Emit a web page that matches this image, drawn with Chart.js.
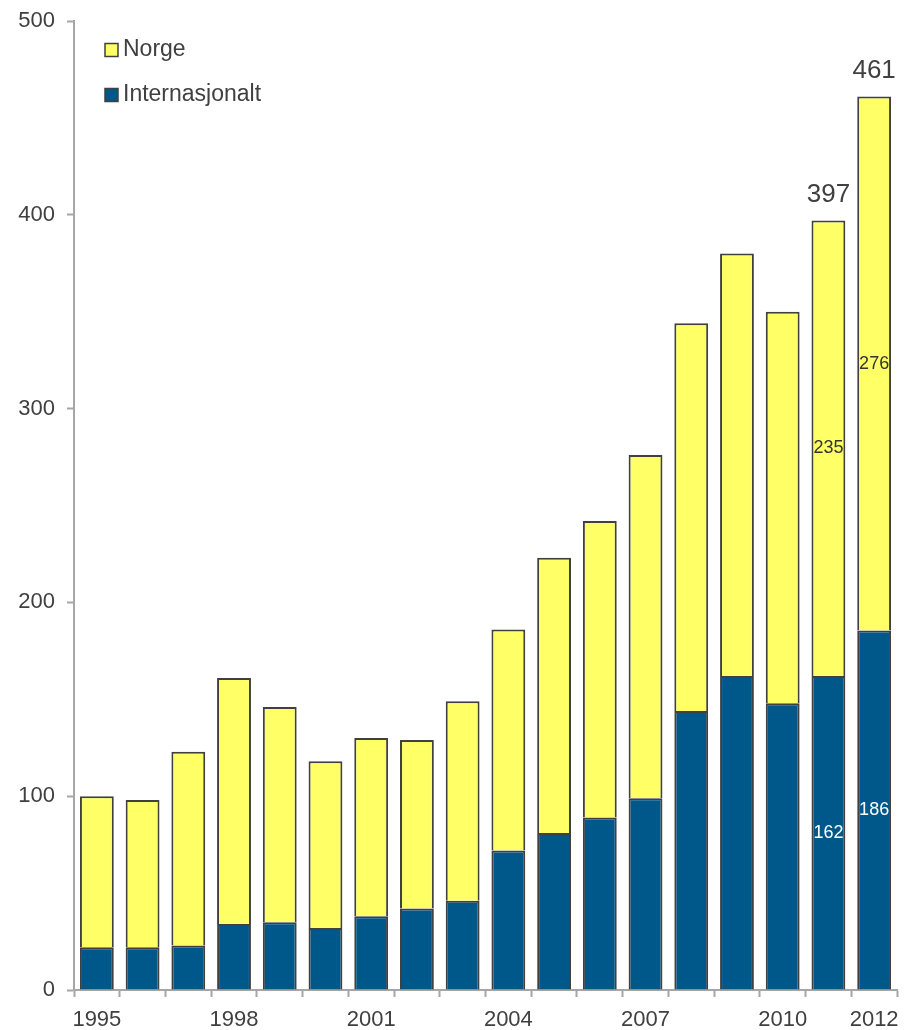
<!DOCTYPE html>
<html>
<head>
<meta charset="utf-8">
<script src="https://cdn.jsdelivr.net/npm/chart.js@4.4.1/dist/chart.umd.min.js"></script>
<style>
  html, body { margin: 0; padding: 0; background: #ffffff; }
  #wrap { width: 904px; height: 1030px; }
</style>
</head>
<body>
<div id="wrap"><canvas id="chart" width="904" height="1030"></canvas></div>
<script>
// Years on the category axis
const years = ['1995','1996','1997','1998','1999','2000','2001','2002','2003',
               '2004','2005','2006','2007','2008','2009','2010','2011','2012'];
// International part (bottom of each stack)
const internasjonalt = [22, 22, 23, 34, 35, 32, 38, 42, 46, 72, 81, 89, 99, 144, 162, 148, 162, 185.5];
// Norwegian part (stacked on top)
const norge = [78, 76, 100, 127, 111, 86, 92, 87, 103, 114, 142, 153, 177, 200, 218, 202, 235, 275.5];
// Year labels printed under the axis
const shownYears = ['1995','1998','2001','2004','2007','2010','2012'];
// Value-axis ticks
const yTicks = [0, 100, 200, 300, 400, 500];
// Years whose bars carry value labels
const labelledYears = ['2011','2012'];

const FONT = '"Liberation Sans", Arial, Helvetica, sans-serif';
const TEXT = '#404040';
const AXIS = '#a6a6a6';
const EDGE = '#404040';

// Segment values and stack totals on the labelled bars
const valueLabels = {
  id: 'valueLabels',
  afterDatasetsDraw(chart) {
    const ctx = chart.ctx;
    const metaI = chart.getDatasetMeta(0);
    const metaN = chart.getDatasetMeta(1);
    ctx.save();
    ctx.textAlign = 'center';
    ctx.textBaseline = 'middle';
    labelledYears.forEach(y => {
      const i = years.indexOf(y);
      const bi = metaI.data[i];
      const bn = metaN.data[i];
      ctx.font = '18px ' + FONT;
      ctx.fillStyle = '#ffffff';
      ctx.fillText(String(Math.round(internasjonalt[i])), bi.x, (bi.y + bi.base) / 2);
      ctx.fillStyle = '#333333';
      ctx.fillText(String(Math.round(norge[i])), bn.x, (bn.y + bn.base) / 2);
      ctx.font = '26px ' + FONT;
      ctx.fillStyle = TEXT;
      ctx.fillText(String(Math.round(internasjonalt[i] + norge[i])), bn.x, bn.y - 26);
    });
    ctx.restore();
  }
};

// Stacked key in the upper-left corner of the plot, top series first
const cornerKey = {
  id: 'cornerKey',
  afterDraw(chart) {
    const ctx = chart.ctx;
    const area = chart.chartArea;
    const sets = chart.data.datasets.slice().reverse();
    const x = area.left + 31;
    let cy = area.top + 29;
    ctx.save();
    ctx.font = '23px ' + FONT;
    ctx.textAlign = 'left';
    ctx.textBaseline = 'middle';
    sets.forEach(ds => {
      ctx.fillStyle = ds.backgroundColor;
      ctx.fillRect(x, cy - 6.5, 13, 13);
      ctx.strokeStyle = EDGE;
      ctx.lineWidth = 1.5;
      ctx.strokeRect(x, cy - 6.5, 13, 13);
      ctx.fillStyle = TEXT;
      ctx.fillText(ds.label, x + 18, cy);
      cy += 45;
    });
    ctx.restore();
  }
};

new Chart(document.getElementById('chart'), {
  type: 'bar',
  data: {
    labels: years,
    datasets: [
      {
        label: 'Internasjonalt',
        data: internasjonalt,
        backgroundColor: '#00578a',
        borderColor: EDGE,
        borderWidth: 2,
        barPercentage: 0.74,
        categoryPercentage: 1.0
      },
      {
        label: 'Norge',
        data: norge,
        backgroundColor: '#ffff66',
        borderColor: EDGE,
        borderWidth: 2,
        barPercentage: 0.74,
        categoryPercentage: 1.0
      }
    ]
  },
  options: {
    responsive: false,
    animation: false,
    layout: { padding: { top: 21, right: 7, left: 0, bottom: 0 } },
    plugins: {
      tooltip: { enabled: false },
      legend: { display: false }
    },
    scales: {
      x: {
        stacked: true,
        grid: {
          offset: true,
          drawOnChartArea: false,
          drawTicks: true,
          tickLength: 7,
          tickColor: AXIS,
          tickWidth: 2
        },
        border: { color: AXIS, width: 2 },
        ticks: {
          autoSkip: false,
          maxRotation: 0,
          minRotation: 0,
          padding: 10,
          color: TEXT,
          font: { family: FONT, size: 22 },
          callback: function (value) {
            const lbl = years[value];
            return shownYears.includes(lbl) ? lbl : '';
          }
        },
        afterFit: function (scale) {
          scale.height = 40;
          scale.paddingLeft = 0;
          scale.paddingRight = 0;
        }
      },
      y: {
        stacked: true,
        min: yTicks[0],
        max: yTicks[yTicks.length - 1],
        afterBuildTicks: function (scale) {
          scale.ticks = yTicks.map(v => ({ value: v }));
        },
        grid: {
          drawOnChartArea: false,
          drawTicks: true,
          tickLength: 7,
          tickColor: AXIS,
          tickWidth: 2
        },
        border: { color: AXIS, width: 2 },
        ticks: {
          padding: 12,
          color: TEXT,
          font: { family: FONT, size: 22 }
        },
        afterFit: function (scale) {
          scale.width = 74;
          scale.paddingTop = 0;
          scale.paddingBottom = 0;
        }
      }
    }
  },
  plugins: [valueLabels, cornerKey]
});
</script>
</body>
</html>
